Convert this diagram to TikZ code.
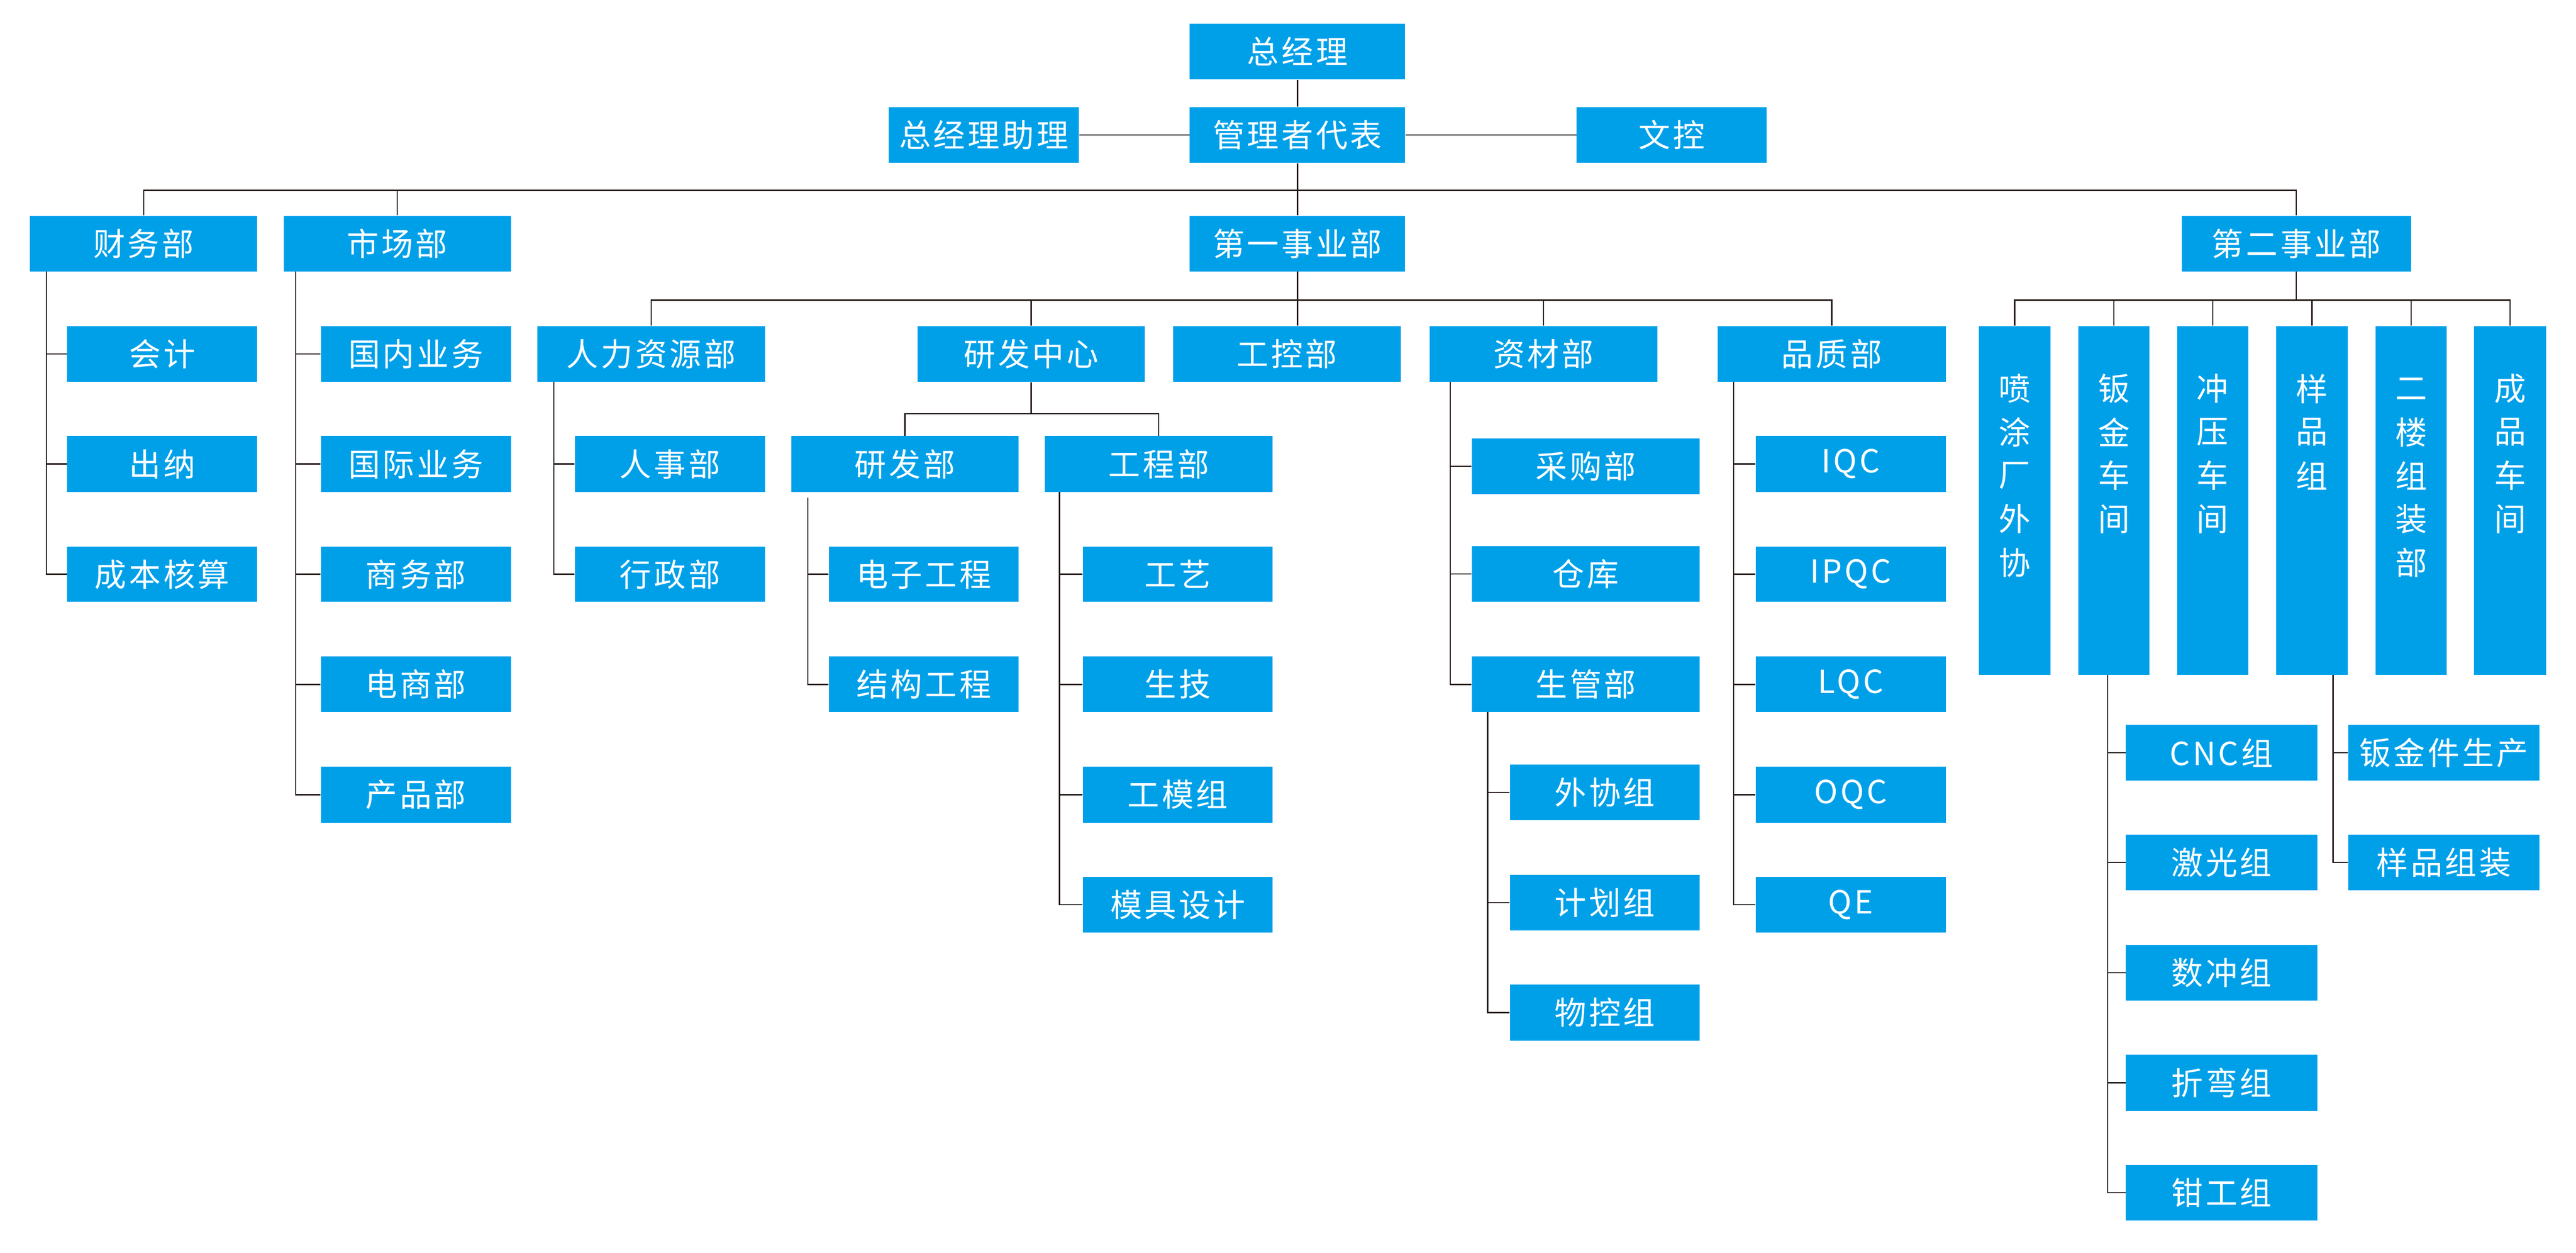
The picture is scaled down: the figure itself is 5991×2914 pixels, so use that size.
\documentclass[tikz,border=0pt]{standalone}
\usepackage{fontspec}
\newfontfamily\cjk[LetterSpace=8]{Noto Sans CJK SC}
\newfontfamily\cjkv{Noto Sans CJK SC}
\definecolor{boxblue}{RGB}{0,160,233}
\definecolor{lncol}{RGB}{35,24,21}
\tikzset{
  box/.style={fill=boxblue, text=white, inner sep=0pt, font=\cjk\fontsize{18.5}{22}\selectfont},
  vtxt/.style={text=white, inner sep=0pt, font=\cjkv\fontsize{18.5}{22}\selectfont},
  ln/.style={draw=lncol, line width=0.75pt},
}
\newcommand\bx[6]{\node[box, minimum width={(#4-#2)*0.25pt}, minimum height={(#5-#3)*0.25pt}] (#1) at ({(#2+#4)/2},{(#3+#5)/2}) {#6};}
\newcommand\vcol[3]{\foreach \c [count=\i from 0] in {#3} {\node[vtxt] (#1-\i) at (#2,{904+101*\i}) {\c};}}
\begin{document}
\begin{tikzpicture}[x=0.25pt,y=-0.25pt]
\useasboundingbox (0,0) rectangle (5991,2914);
% top
\bx{gm}{2767}{55}{3268}{185}{总经理}
\bx{mr}{2767}{249}{3268}{379}{管理者代表}
\bx{asst}{2067}{249}{2509}{379}{总经理助理}
\bx{dc}{3667}{249}{4109}{379}{文控}
% row 1
\bx{fin}{70}{502}{598}{631}{财务部}
\bx{mkt}{660}{502}{1188}{631}{市场部}
\bx{bu1}{2767}{502}{3268}{631}{第一事业部}
\bx{bu2}{5074}{502}{5607}{631}{第二事业部}
% finance
\bx{fa}{156}{758}{598}{888}{会计}
\bx{fb}{156}{1014}{598}{1144}{出纳}
\bx{fc}{156}{1271}{598}{1400}{成本核算}
% market
\bx{ma}{746}{758}{1188}{888}{国内业务}
\bx{mb}{746}{1014}{1188}{1144}{国际业务}
\bx{mc}{746}{1271}{1188}{1400}{商务部}
\bx{md}{746}{1527}{1188}{1656}{电商部}
\bx{me}{746}{1783}{1188}{1913}{产品部}
% HR
\bx{hr}{1250}{758}{1779}{888}{人力资源部}
\bx{ha}{1337}{1014}{1779}{1144}{人事部}
\bx{hb}{1337}{1271}{1779}{1400}{行政部}
% R&D
\bx{rdc}{2134}{758}{2662}{888}{研发中心}
\bx{rd}{1840}{1014}{2369}{1144}{研发部}
\bx{ra}{1928}{1271}{2369}{1400}{电子工程}
\bx{rb}{1928}{1527}{2369}{1656}{结构工程}
\bx{eng}{2430}{1014}{2960}{1144}{工程部}
\bx{ea}{2518}{1271}{2960}{1400}{工艺}
\bx{eb}{2518}{1527}{2960}{1656}{生技}
\bx{ec}{2518}{1783}{2960}{1913}{工模组}
\bx{ed}{2518}{2039}{2960}{2169}{模具设计}
% IC
\bx{ic}{2728}{758}{3258}{888}{工控部}
% materials
\bx{mat}{3325}{758}{3854}{888}{资材部}
\bx{sa}{3423}{1020}{3953}{1149}{采购部}
\bx{sb}{3423}{1270}{3953}{1399}{仓库}
\bx{sc}{3423}{1527}{3953}{1656}{生管部}
\bx{pa}{3512}{1778}{3953}{1908}{外协组}
\bx{pb}{3512}{2034}{3953}{2164}{计划组}
\bx{pc}{3512}{2290}{3953}{2420}{物控组}
% quality
\bx{qa}{3995}{758}{4525}{888}{品质部}
\bx{qa1}{4083}{1014}{4525}{1144}{IQC}
\bx{qa2}{4083}{1271}{4525}{1400}{IPQC}
\bx{qa3}{4083}{1527}{4525}{1656}{LQC}
\bx{qa4}{4083}{1783}{4525}{1913}{OQC}
\bx{qa5}{4083}{2039}{4525}{2169}{QE}
% business unit 2 columns
\bx{v1}{4602}{758}{4769}{1570}{}
\bx{v2}{4833}{758}{4999}{1570}{}
\bx{v3}{5063}{758}{5229}{1570}{}
\bx{v4}{5294}{758}{5460}{1570}{}
\bx{v5}{5525}{758}{5690}{1570}{}
\bx{v6}{5754}{758}{5921}{1570}{}
\vcol{v1t}{4685.5}{喷,涂,厂,外,协}
\vcol{v2t}{4916}{钣,金,车,间}
\vcol{v3t}{5146}{冲,压,车,间}
\vcol{v4t}{5377}{样,品,组}
\vcol{v5t}{5607.5}{二,楼,组,装,部}
\vcol{v6t}{5837.5}{成,品,车,间}
\bx{ka}{4944}{1686}{5389}{1815}{CNC组}
\bx{kb}{4944}{1941}{5389}{2071}{激光组}
\bx{kc}{4944}{2197}{5389}{2327}{数冲组}
\bx{kd}{4944}{2453}{5389}{2583}{折弯组}
\bx{ke}{4944}{2709}{5389}{2839}{钳工组}
\bx{ya}{5461}{1686}{5906}{1815}{钣金件生产}
\bx{yb}{5461}{1941}{5906}{2071}{样品组装}
% ---------- connectors ----------
\draw[ln] (gm.south) -- (mr.north);
\draw[ln] (asst.east) -- (mr.west);
\draw[ln] (mr.east) -- (dc.west);
\draw[ln] (mr.south) -- (bu1.north);
\coordinate (b1) at (3017.5,443);
\draw[ln] (fin.north) -- (fin.north |- b1) -- (bu2.north |- b1) -- (bu2.north);
\draw[ln] (mkt.north) -- (mkt.north |- b1);
\coordinate (b2) at (3017.5,698);
\draw[ln] (hr.north) -- (hr.north |- b2) -- (qa.north |- b2) -- (qa.north);
\draw[ln] (bu1.south) -- (bu1.south |- ic.north);
\draw[ln] (rdc.north) -- (rdc.north |- b2);
\draw[ln] (mat.north) -- (mat.north |- b2);
\coordinate (b3) at (2398,962);
\draw[ln] (rdc.south) -- (rdc.south |- b3);
\draw[ln] (rd.north) -- (rd.north |- b3) -- (eng.north |- b3) -- (eng.north);
\coordinate (b4) at (5340,698);
\draw[ln] (bu2.south) -- (bu2.south |- b4);
\draw[ln] (v1.north) -- (v1.north |- b4) -- (v6.north |- b4) -- (v6.north);
\foreach \k in {v2,v3,v4,v5} \draw[ln] (\k.north) -- (\k.north |- b4);
% spines
\coordinate (finS) at (108,631);
\draw[ln] (finS) |- (fc.west);
\foreach \k in {fa,fb} \draw[ln] (finS |- \k.west) -- (\k.west);
\coordinate (mktS) at (688,631);
\draw[ln] (mktS) |- (me.west);
\foreach \k in {ma,mb,mc,md} \draw[ln] (mktS |- \k.west) -- (\k.west);
\coordinate (hrS) at (1288,888);
\draw[ln] (hrS) |- (hb.west);
\draw[ln] (hrS |- ha.west) -- (ha.west);
\coordinate (rdS) at (1879,1158);
\draw[ln] (rdS) |- (rb.west);
\draw[ln] (rdS |- ra.west) -- (ra.west);
\coordinate (engS) at (2464,1144);
\draw[ln] (engS) |- (ed.west);
\foreach \k in {ea,eb,ec} \draw[ln] (engS |- \k.west) -- (\k.west);
\coordinate (matS) at (3373,888);
\draw[ln] (matS) |- (sc.west);
\foreach \k in {sa,sb} \draw[ln] (matS |- \k.west) -- (\k.west);
\coordinate (scS) at (3460,1656);
\draw[ln] (scS) |- (pc.west);
\foreach \k in {pa,pb} \draw[ln] (scS |- \k.west) -- (\k.west);
\coordinate (qaS) at (4032,888);
\draw[ln] (qaS) |- (qa5.west);
\foreach \k in {qa1,qa2,qa3,qa4} \draw[ln] (qaS |- \k.west) -- (\k.west);
\coordinate (v2S) at (4902,1570);
\draw[ln] (v2S) |- (ke.west);
\foreach \k in {ka,kb,kc,kd} \draw[ln] (v2S |- \k.west) -- (\k.west);
\coordinate (v4S) at (5426,1570);
\draw[ln] (v4S) |- (yb.west);
\draw[ln] (v4S |- ya.west) -- (ya.west);
\end{tikzpicture}
\end{document}
